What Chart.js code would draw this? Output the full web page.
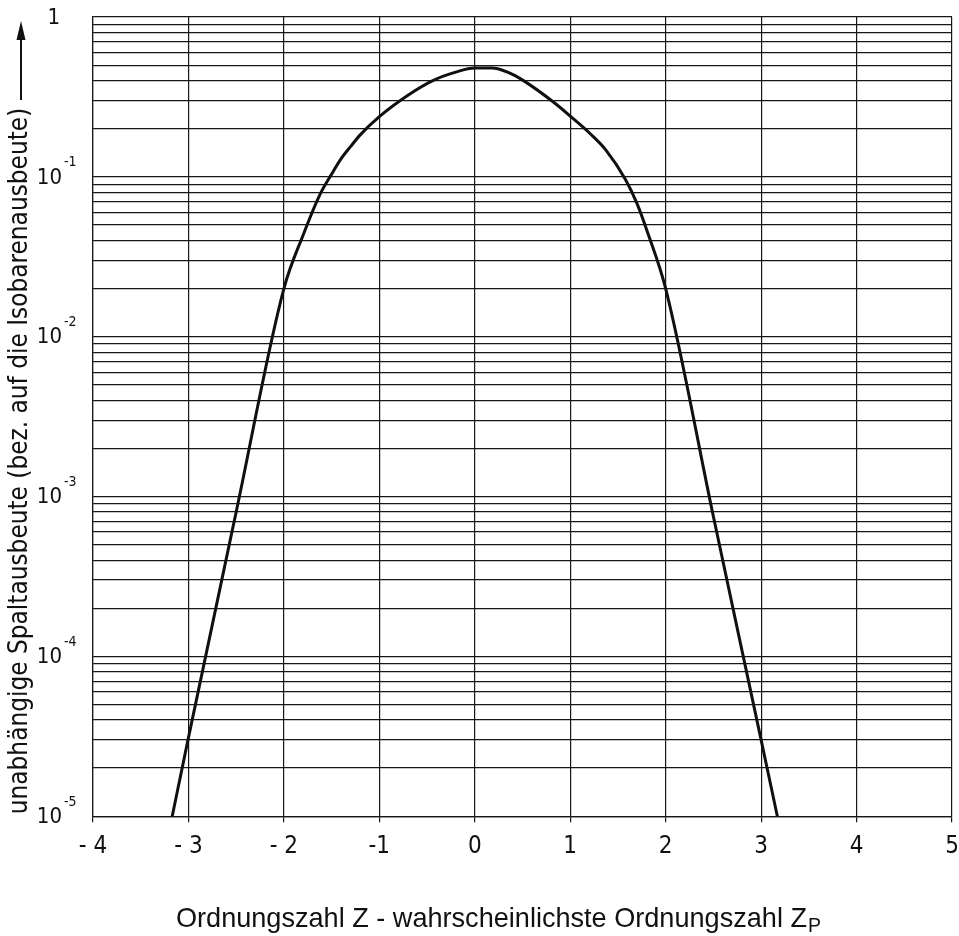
<!DOCTYPE html>
<html>
<head>
<meta charset="utf-8">
<title>Unabhängige Spaltausbeute</title>
<script src="https://cdn.jsdelivr.net/npm/chart.js@4.4.1/dist/chart.umd.min.js"></script>
<style>
  html, body { margin: 0; padding: 0; background: #fff; }
  canvas { display: block; }
</style>
</head>
<body>
<canvas id="chart" width="959" height="936"></canvas>
<script>
// Z - Zp and independent yield relative to the isobar yield
const zOffsets = [-3.17, -3.0, -2.5, -2.0, -1.8, -1.62, -1.5, -1.4, -1.3, -1.2, -1.0, -0.7, -0.44, -0.2, 0.0, 0.18, 0.35, 0.51, 0.82, 1.0, 1.21, 1.37, 1.58, 1.7, 1.81, 2.0, 2.5, 3.0, 3.17];
const yields = [1e-5, 3.1e-5, 8.0e-4, 0.020, 0.043, 0.078, 0.104, 0.13, 0.155, 0.183, 0.238, 0.324, 0.40, 0.452, 0.479, 0.479, 0.45, 0.40, 0.295, 0.24, 0.186, 0.148, 0.096, 0.068, 0.045, 0.020, 7.5e-4, 3.0e-5, 1e-5];

const xMin = -4;
const xMax = 5;
const decadeExponents = [0, -1, -2, -3, -4, -5];

const labelFont = "'DejaVu Sans Condensed', 'DejaVu Sans', sans-serif";
const lineColor = "#161616";

const points = zOffsets.map((z, i) => ({ x: z, y: yields[i] }));

// gridlines at 1..9 of every decade
function logGridTicks() {
  const ticks = [];
  for (let e = -5; e < 0; e++) {
    for (let s = 1; s <= 9; s++) {
      ticks.push({ value: s * Math.pow(10, e) });
    }
  }
  ticks.push({ value: 1 });
  return ticks;
}

function fitFont(ctx, text, family, target) {
  ctx.font = "20px " + family;
  return 20 * target / ctx.measureText(text).width;
}

const annotations = {
  id: "annotations",
  afterDraw(chart) {
    const ctx = chart.ctx;
    const y = chart.scales.y;
    ctx.save();
    ctx.fillStyle = "#111";
    ctx.textBaseline = "middle";

    // decade labels with exponents
    decadeExponents.forEach(e => {
      const py = y.getPixelForValue(Math.pow(10, e));
      if (e === 0) {
        ctx.font = "22px " + labelFont;
        ctx.textAlign = "right";
        ctx.fillText("1", 60, py + 1);
        return;
      }
      ctx.font = "22px " + labelFont;
      ctx.textAlign = "right";
      ctx.fillText("10", 62, py + 1);
      ctx.font = "14px " + labelFont;
      ctx.textAlign = "left";
      ctx.fillText("-" + Math.abs(e), 64, py - 14);
    });

    // y axis title, rotated
    const yTitle = "unabhängige Spaltausbeute (bez. auf die Isobarenausbeute)";
    const ySize = fitFont(ctx, yTitle, labelFont, 706);
    ctx.save();
    ctx.translate(20, 461);
    ctx.rotate(-Math.PI / 2);
    ctx.font = ySize.toFixed(1) + "px " + labelFont;
    ctx.textAlign = "center";
    ctx.fillText(yTitle, 0, 0);
    ctx.restore();

    // arrow above the title
    ctx.strokeStyle = "#111";
    ctx.lineWidth = 2;
    ctx.beginPath();
    ctx.moveTo(21, 100);
    ctx.lineTo(21, 36);
    ctx.stroke();
    ctx.beginPath();
    ctx.moveTo(21, 21);
    ctx.lineTo(16.5, 40);
    ctx.lineTo(25.5, 40);
    ctx.closePath();
    ctx.fill();

    // x axis title with subscript P
    const xFamily = "'Liberation Sans', Arial, sans-serif";
    const xTitle = "Ordnungszahl Z - wahrscheinlichste Ordnungszahl Z";
    const xSize = fitFont(ctx, xTitle, xFamily, 630);
    ctx.font = xSize.toFixed(1) + "px " + xFamily;
    ctx.textAlign = "left";
    ctx.textBaseline = "alphabetic";
    const left = 176;
    ctx.fillText(xTitle, left, 927);
    const w = ctx.measureText(xTitle).width;
    ctx.font = (xSize * 0.72).toFixed(1) + "px " + xFamily;
    ctx.fillText("P", left + w + 1, 932);

    ctx.restore();
  }
};

new Chart(document.getElementById("chart"), {
  type: "line",
  data: {
    datasets: [{
      data: points,
      borderColor: "#101010",
      borderWidth: 3,
      pointRadius: 0,
      fill: false,
      cubicInterpolationMode: "monotone"
    }]
  },
  options: {
    responsive: false,
    animation: false,
    events: [],
    layout: { padding: { left: 93, right: 7, top: 17, bottom: 65 } },
    plugins: {
      legend: { display: false },
      tooltip: { enabled: false },
      title: { display: false }
    },
    scales: {
      x: {
        type: "linear",
        min: xMin,
        max: xMax,
        afterFit: scale => { scale.paddingLeft = 0; scale.paddingRight = 0; },
        ticks: {
          stepSize: 1,
          color: "#111",
          padding: 10,
          font: { family: labelFont, size: 24 },
          callback: v => (v < -1 ? "- " + Math.abs(v) : String(v))
        },
        grid: { color: lineColor, lineWidth: 1.2, tickLength: 6 },
        border: { color: lineColor, width: 1.2 }
      },
      y: {
        type: "logarithmic",
        min: 1e-5,
        max: 1,
        afterBuildTicks: scale => { scale.ticks = logGridTicks(); },
        ticks: { display: false },
        grid: { color: lineColor, lineWidth: 1.2, drawTicks: false },
        border: { color: lineColor, width: 1.2 }
      }
    }
  },
  plugins: [annotations]
});
</script>
</body>
</html>
